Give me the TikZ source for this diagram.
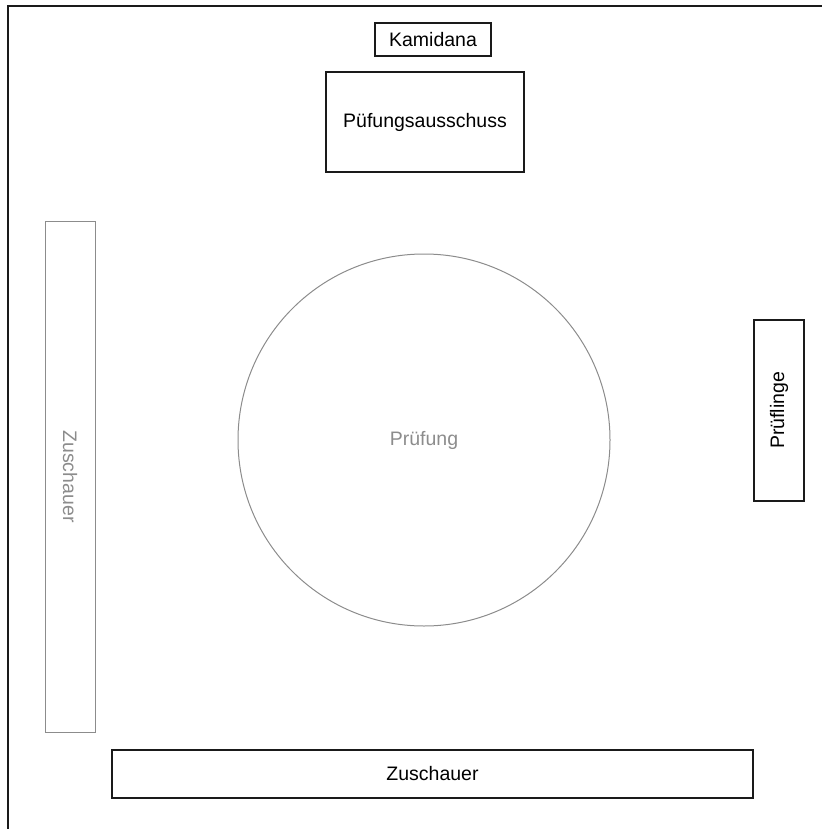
\documentclass[tikz,border=0pt]{standalone}
\usepackage{fontspec}
\setmainfont{Liberation Sans}
\usetikzlibrary{positioning}
\definecolor{RoomDark}{HTML}{1A1A1A}
\definecolor{RoomGray}{HTML}{8C8C8C}

\begin{document}
\begin{tikzpicture}[
    x=1pt, y=-1pt,
    box/.style={draw=RoomDark, line width=1.3pt, inner sep=0pt,
        font=\fontsize{19.5}{23}\selectfont},
    greybox/.style={box, draw=RoomGray, text=RoomGray, line width=1pt}
 ]
\def\wMax{822}
\def\hMax{829}
\def\frameX{8}
\def\frameY{6}
\useasboundingbox (0,0) rectangle (\wMax,\hMax);

% outer frame, only left and top edge visible
\draw[line width=2pt, RoomDark] (\frameX,\hMax) -- (\frameX,\frameY) -- (\wMax,\frameY);

\node[box, minimum width=116pt, minimum height=33pt] (kamidana) at (433,39.5) {Kamidana};
\node[box, minimum width=198pt, minimum height=100pt] (ausschuss) at (425,122) {Püfungsausschuss};

\node[greybox, circle, minimum size=372pt] (pruefung) at (424,440) {Prüfung};

\node[greybox, rotate=-90, minimum width=511pt, minimum height=50pt] (zuschauerL) at (70,476.5) {Zuschauer};
\node[box, rotate=90, minimum width=181pt, minimum height=50pt] (prueflinge) at (779,410.5) {Prüflinge};
\node[box, minimum width=641pt, minimum height=48pt] (zuschauerU) at (432.5,774) {Zuschauer};

\end{tikzpicture}
\end{document}
